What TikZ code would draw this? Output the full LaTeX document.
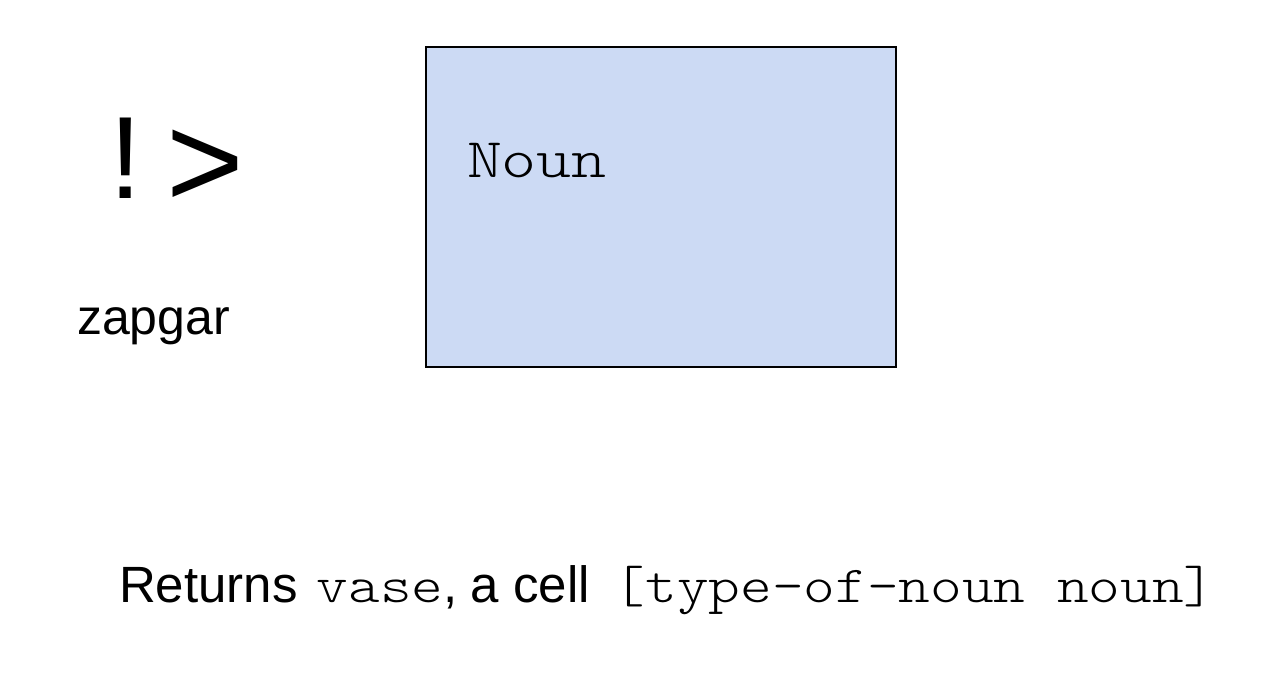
\documentclass[tikz,border=0pt]{standalone}
\usepackage{fontspec}
\setmainfont{Liberation Sans}
\newfontfamily\monobox[FakeStretch=1.19]{Latin Modern Mono Light}
\newfontfamily\monof[FakeStretch=1.16]{Latin Modern Mono Light}
\definecolor{boxblue}{HTML}{CCDAF4}
\tikzset{
  txt/.style={anchor=base west, inner sep=0pt, outer sep=0pt},
  cellbox/.style={draw=black, line width=2.4pt, fill=boxblue, anchor=north west, inner sep=0pt, minimum width=470pt, minimum height=320pt}
}
\begin{document}
\begin{tikzpicture}[x=1pt,y=-1pt]
\useasboundingbox (0,0) rectangle (1272,676);
\node[cellbox] (box) at (424.5,46) {};
\node[txt, font=\monobox\fontsize{56}{60}\selectfont] (noun) at (467,178) {Noun};
\node[txt, font=\fontsize{117}{120}\selectfont] (op) at (109,199) {!\hspace{25pt}{\fontsize{133}{140}\selectfont\raisebox{-8.5pt}{>}}};
\node[txt, font=\fontsize{50}{56}\selectfont] (name) at (77,335) {zapgar};
\node[txt, font=\fontsize{51}{60}\selectfont] (ret) at (119,602) {Returns\hspace{19.4pt}{\monof\fontsize{52}{60}\selectfont vase},\hspace{13pt}a cell\hspace{24pt}{\monof\fontsize{52}{60}\selectfont [type-of-noun noun]}};
\end{tikzpicture}
\end{document}
